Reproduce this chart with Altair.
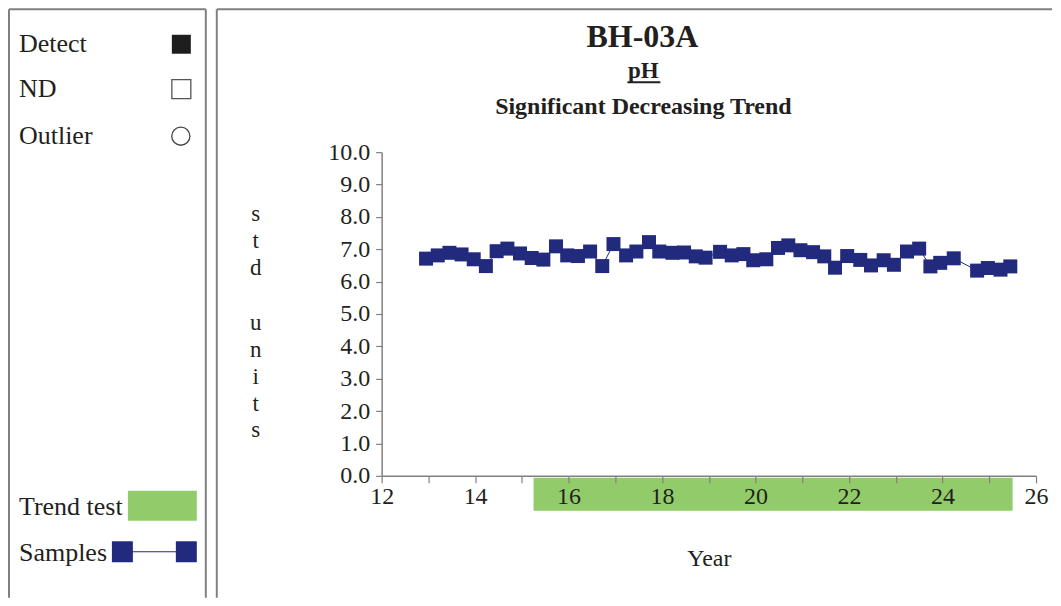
import altair as alt
import pandas as pd

# ---- data ----
years = [12.95, 13.20, 13.45, 13.71, 13.97, 14.23, 14.46, 14.69, 14.96, 15.21,
         15.46, 15.73, 15.97, 16.20, 16.46, 16.72, 16.96, 17.23, 17.45, 17.72,
         17.94, 18.22, 18.47, 18.72, 18.93, 19.24, 19.49, 19.74, 19.95, 20.23,
         20.48, 20.70, 20.96, 21.23, 21.47, 21.70, 21.96, 22.24, 22.47, 22.74,
         22.96, 23.24, 23.50, 23.74, 23.95, 24.24, 24.74, 24.97, 25.24, 25.45]
ph = [6.71, 6.81, 6.89, 6.84, 6.69, 6.48, 6.94, 7.02, 6.87, 6.73,
      6.68, 7.09, 6.81, 6.79, 6.93, 6.48, 7.16, 6.81, 6.93, 7.22,
      6.93, 6.89, 6.90, 6.78, 6.74, 6.92, 6.81, 6.85, 6.66, 6.69,
      7.04, 7.12, 6.97, 6.91, 6.78, 6.43, 6.79, 6.67, 6.50, 6.66,
      6.52, 6.93, 7.02, 6.47, 6.58, 6.72, 6.34, 6.42, 6.37, 6.47]
trend_start = [15.25]
trend_end = [25.5]
x_ticks = list(range(12, 27))
y_ticks = list(range(0, 11))
y_title_word1 = ["s", "t", "d"]
y_title_word2 = ["u", "n", "i", "t", "s"]
legend_labels = ["Detect", "ND", "Outlier", "Trend test", "Samples"]
title_main = "BH-03A"
title_param = "pH"
title_trend = "Significant Decreasing Trend"
x_title = "Year"

df = pd.DataFrame({"year": years, "ph": ph})
trend_df = pd.DataFrame({"start": trend_start, "end": trend_end})

SERIF = "Liberation Serif"
NAVY = "#222a7e"
GREEN = "#92cc6a"
GREY = "#808080"
TXT = "#231f20"

one = alt.Data(values=[{"k": 0}])

xscale = alt.Scale(domain=[12, 26], nice=False, zero=False)
yscale = alt.Scale(domain=[0, 10], nice=False, zero=True)

xaxis = alt.Axis(
    title=x_title, values=x_ticks, format="d",
    labelExpr="datum.value % 2 === 0 ? datum.label : ''",
    grid=False, domainColor=GREY, domainWidth=1.5, tickColor=GREY,
    tickSize=7, tickWidth=1.2, labelFont=SERIF, labelFontSize=24,
    labelColor=TXT, labelPadding=2, labelFlush=False, labelOverlap=False,
    titleFont=SERIF, titleFontSize=24, titleFontWeight="normal",
    titleColor=TXT, titleY=83, titleBaseline="middle", zindex=1,
)
yaxis = alt.Axis(
    title=None, values=y_ticks, format=".1f", grid=False,
    domainColor=GREY, domainWidth=1.5, tickColor=GREY, tickSize=6,
    tickWidth=1.2, labelFont=SERIF, labelFontSize=24, labelColor=TXT,
    labelPadding=6, labelOverlap=False,
)

trend = alt.Chart(trend_df).mark_rect(color=GREEN).encode(
    x=alt.X("start:Q", scale=xscale, axis=xaxis),
    x2="end:Q",
    y=alt.value(326), y2=alt.value(359),
)
line = alt.Chart(df).mark_line(color=NAVY, strokeWidth=1).encode(
    x=alt.X("year:Q", scale=xscale, axis=xaxis),
    y=alt.Y("ph:Q", scale=yscale, axis=yaxis),
)
pts = alt.Chart(df).mark_square(size=196, color=NAVY, opacity=1).encode(
    x=alt.X("year:Q", scale=xscale, axis=xaxis),
    y=alt.Y("ph:Q", scale=yscale, axis=yaxis),
)


def text(txt, x, y, size, bold=False, align="left", baseline="middle"):
    return alt.Chart(one).mark_text(
        text=txt, font=SERIF, fontSize=size,
        fontWeight="bold" if bold else "normal",
        align=align, baseline=baseline, color=TXT, lineHeight=26.9,
    ).encode(x=alt.value(x), y=alt.value(y))


def rule(x1, x2, y1, y2, color=GREY, w=2):
    return alt.Chart(one).mark_rule(color=color, strokeWidth=w).encode(
        x=alt.value(x1), x2=alt.value(x2), y=alt.value(y1), y2=alt.value(y2))


def square(x, y, size, filled=True, color=TXT):
    if filled:
        m = alt.Chart(one).mark_square(size=size, color=color, opacity=1)
    else:
        m = alt.Chart(one).mark_square(size=size, filled=False, color=color,
                                       strokeWidth=1.3, opacity=1)
    return m.encode(x=alt.value(x), y=alt.value(y))


TOP = -143
BOT = 446
decor = [
    # panel borders
    rule(-373, -373, TOP, BOT),
    rule(-176, -176, TOP, BOT),
    rule(-373, -176, TOP, TOP),
    rule(-165, -165, TOP, BOT),
    rule(-165, 671, TOP, TOP),
    # titles
    text(title_main, 261, -115, 32, bold=True, align="center"),
    text(title_param, 262, -81, 23, bold=True, align="center"),
    rule(246, 279, -70, -70, color=TXT, w=2),
    text(title_trend, 262, -45, 24, bold=True, align="center"),
    # vertical y-axis title
    text(y_title_word1, -126, 51, 23, align="center", baseline="top"),
    text(y_title_word2, -126, 160, 23, align="center", baseline="top"),
    # legend panel
    text(legend_labels[0], -363, -108, 26),
    square(-200.5, -108, 361, True, "#1e1e1e"),
    text(legend_labels[1], -363, -63, 26),
    square(-200.5, -63, 361, False, "#555555"),
    text(legend_labels[2], -363, -16, 26),
    alt.Chart(one).mark_point(shape="circle", size=330, filled=False,
                              color="#444444", strokeWidth=1.3, opacity=1)
    .encode(x=alt.value(-201), y=alt.value(-16)),
    text(legend_labels[3], -363, 355, 26),
    alt.Chart(one).mark_rect(color=GREEN).encode(
        x=alt.value(-254), x2=alt.value(-185), y=alt.value(339), y2=alt.value(369)),
    text(legend_labels[4], -363, 401, 26),
    rule(-259.5, -195.5, 400, 400, color=NAVY, w=1),
    square(-259.5, 400, 441, True, NAVY),
    square(-195.5, 400, 441, True, NAVY),
]

chart = alt.layer(trend, line, pts, *decor).properties(
    width=655, height=324, padding=0,
).configure_view(strokeWidth=0)

chart.save("out.html", embed_options={"renderer": "svg", "actions": False})
